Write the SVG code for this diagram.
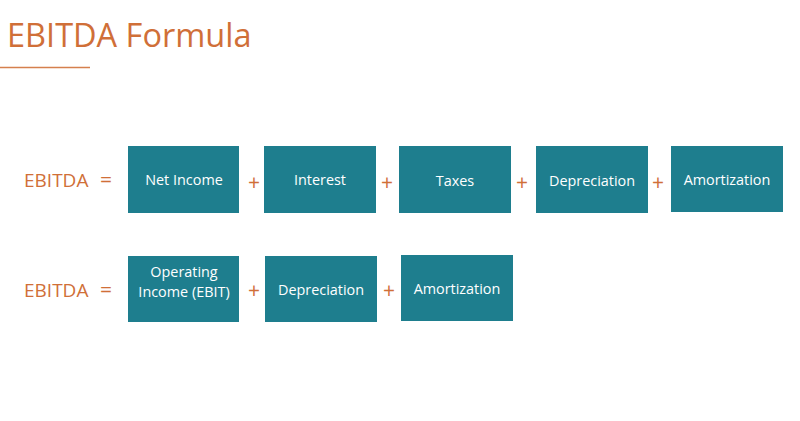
<svg xmlns="http://www.w3.org/2000/svg" width="800" height="421" viewBox="0 0 800 421">
<style>
.box{fill:#1e7e8e;}
.bt{font-family:"Open Sans","Noto Sans",sans-serif;font-size:14.4px;fill:#ffffff;text-anchor:middle;}
.or{font-family:"Open Sans","Noto Sans",sans-serif;fill:#d06f38;}
.lbl{font-size:19px;}
.op{font-size:21px;text-anchor:middle;}
</style>
<rect width="800" height="421" fill="#ffffff"/>
<text x="7" y="47" class="or" style="font-size:32.5px">EBITDA Formula</text>
<line x1="0" y1="67.5" x2="90" y2="67.5" stroke="#d5804e" stroke-width="1.3"/>
<g id="row1-label"><text x="24" y="187" class="or lbl">EBITDA</text><text x="106" y="187" class="or op">=</text></g>
<g id="net-income"><rect class="box" x="128" y="146" width="111" height="67"/><text class="bt" x="184" y="185">Net Income</text></g>
<g id="interest"><rect class="box" x="264" y="146" width="112" height="67"/><text class="bt" x="320" y="185">Interest</text></g>
<g id="taxes"><rect class="box" x="399" y="146" width="112" height="67"/><text class="bt" x="455" y="186">Taxes</text></g>
<g id="depreciation1"><rect class="box" x="536" y="146" width="112" height="67"/><text class="bt" x="592" y="186">Depreciation</text></g>
<g id="amortization1"><rect class="box" x="671" y="146" width="112" height="66"/><text class="bt" x="727" y="185">Amortization</text></g>
<g id="row2-label"><text x="24" y="297" class="or lbl">EBITDA</text><text x="106" y="297" class="or op">=</text></g>
<g id="operating-income"><rect class="box" x="128" y="256" width="111" height="66"/><text class="bt" x="184" y="277">Operating</text><text class="bt" x="184" y="297">Income (EBIT)</text></g>
<g id="depreciation2"><rect class="box" x="265" y="256" width="112" height="66"/><text class="bt" x="321" y="295">Depreciation</text></g>
<g id="amortization2"><rect class="box" x="401" y="255" width="112" height="66"/><text class="bt" x="457" y="294">Amortization</text></g>
<g id="operators">
<text x="254" y="190" class="or op">+</text>
<text x="387" y="190" class="or op">+</text>
<text x="522" y="190" class="or op">+</text>
<text x="658" y="190" class="or op">+</text>
<text x="254" y="298" class="or op">+</text>
<text x="389" y="298" class="or op">+</text>
</g>
</svg>
